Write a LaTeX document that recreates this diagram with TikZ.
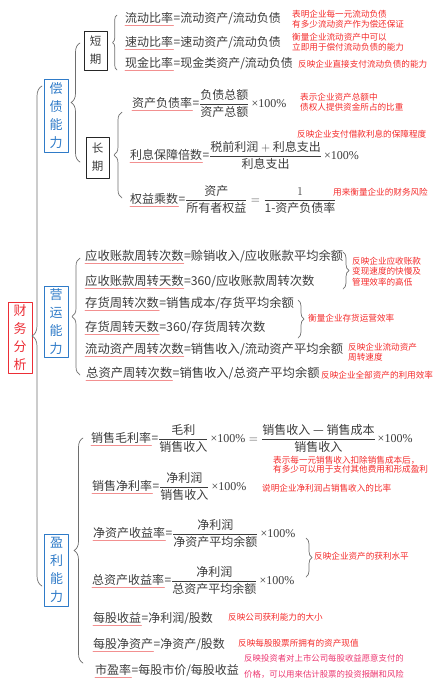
\documentclass[tikz,border=0pt]{standalone}
\usepackage{amsmath}
\usepackage{fontspec}
\setmainfont{Noto Sans CJK SC}
\newfontfamily\serif{Liberation Serif}
\usetikzlibrary{decorations.pathreplacing}
\definecolor{maintxt}{HTML}{3C3C3C}
\definecolor{notered}{HTML}{F42A2A}
\definecolor{notepink}{HTML}{EC3670}
\definecolor{boxblue}{HTML}{2F7BC8}
\definecolor{boxred}{HTML}{EC2E36}
\definecolor{ulred}{HTML}{F29090}
\definecolor{brgray}{HTML}{6E6E6E}
\newcommand{\pct}{\,{\serif ×100\%}}
\begin{document}
\begin{tikzpicture}[x=1pt,y=-1pt, line join=round, line cap=round,
	txt/.style={text=maintxt, font=\fontsize{12}{14}\selectfont, inner sep=0pt, anchor=west},
	ytxt/.style={txt, font=\fontsize{12.3}{15}\selectfont},
	rest/.style={anchor=base west},
	note/.style={text=notered, font=\fontsize{8.6}{10}\selectfont, align=left, inner sep=0pt, anchor=west},
	vbox/.style={draw, line width=0.9pt, align=center, minimum width=24pt, inner sep=0pt, font=\fontsize{13}{18}\selectfont},
	kbox/.style={draw=black!85, text=maintxt, line width=0.8pt, align=center, minimum width=23pt, inner sep=0pt, font=\fontsize{11.5}{18}\selectfont},
	brc/.style={draw=brgray, line width=0.7pt, decorate, decoration={brace, amplitude=#1}},
	uline/.style={draw=ulred, line width=0.8pt}]
	\useasboundingbox (0,0) rectangle (440,686);
	\def\ul{2.6} % underline depth
	% boxes
	\node[vbox, draw=boxred, text=boxred, minimum height=71pt] (cwfx) at (20,337.5) {财\\务\\分\\析};
	\node[vbox, draw=boxblue, text=boxblue, minimum height=73pt] (cznl) at (56,115.5) {偿\\债\\能\\力};
	\node[vbox, draw=boxblue, text=boxblue, minimum height=71pt] (yynl) at (56,321.5) {营\\运\\能\\力};
	\node[vbox, draw=boxblue, text=boxblue, minimum height=72pt] (ylnl) at (56.5,570) {盈\\利\\能\\力};
	\node[kbox, minimum height=39pt] (dq) at (95.5,50.5) {短\\期};
	\node[kbox, minimum height=41pt] (cq) at (97.5,157.5) {长\\期};
	% braces
	\draw[brc=10pt] (42,586) -- (42,86);
	\draw[brc=9pt] (80,162) -- (80,43);
	\draw[brc=4.5pt] (117,70) -- (117,15);
	\draw[brc=8pt] (122,198) -- (122,112);
	\draw[brc=8pt] (80,375) -- (80,258);
	\draw[brc=9pt] (83,663) -- (83,438);
	\draw[brc=6pt] (343,252) -- (343,289);
	\draw[brc=6pt] (298,300) -- (298,338);
	\draw[brc=6pt] (306,538) -- (306,577);
	% 偿债能力
	\node[txt] (ldbl) at (125,18) {流动比率};
	\node[txt, rest] (ldbl-r) at (ldbl.base east) {=流动资产/流动负债};
	\node[txt] (sdbl) at (125,42) {速动比率};
	\node[txt, rest] (sdbl-r) at (sdbl.base east) {=速动资产/流动负债};
	\node[txt] (xjbl) at (125,63) {现金比率};
	\node[txt, rest] (xjbl-r) at (xjbl.base east) {=现金类资产/流动负债};
	\node[txt] (zcfzl) at (132,103) {资产负债率};
	\node[txt, rest] (zcfzl-r) at (zcfzl.base east) {=$\dfrac{\mbox{负债总额}}{\mbox{资产总额}}$\pct};
	\node[txt] (lxbz) at (130,155) {利息保障倍数};
	\node[txt, rest] (lxbz-r) at (lxbz.base east) {=$\dfrac{\mbox{税前利润}+\mbox{利息支出}}{\mbox{利息支出}}$\pct};
	\node[txt] (qycs) at (130,199) {权益乘数};
	\node[txt, rest] (qycs-r) at (qycs.base east) {=$\dfrac{\mbox{资产}}{\mbox{所有者权益}}=\dfrac{1}{\mbox{1-资产负债率}}$};
	\node[note] (n1) at (292,19) {表明企业每一元流动负债\\有多少流动资产作为偿还保证};
	\node[note] (n2) at (292,42.5) {衡量企业流动资产中可以\\立即用于偿付流动负债的能力};
	\node[note] (n3) at (298,64) {反映企业直接支付流动负债的能力};
	\node[note] (n4) at (300,102) {表示企业资产总额中\\债权人提供资金所占的比重};
	\node[note] (n5) at (297,134) {反映企业支付借款利息的保障程度};
	\node[note] (n6) at (333,192) {用来衡量企业的财务风险};
	% 营运能力
	\node[ytxt] (yszk1) at (85,256) {应收账款周转次数};
	\node[ytxt, rest] (yszk1-r) at (yszk1.base east) {=赊销收入/应收账款平均余额};
	\node[ytxt] (yszk2) at (85,281) {应收账款周转天数};
	\node[ytxt, rest] (yszk2-r) at (yszk2.base east) {=360/应收账款周转次数};
	\node[ytxt] (ch1) at (85,303) {存货周转次数};
	\node[ytxt, rest] (ch1-r) at (ch1.base east) {=销售成本/存货平均余额};
	\node[ytxt] (ch2) at (85,327) {存货周转天数};
	\node[ytxt, rest] (ch2-r) at (ch2.base east) {=360/存货周转次数};
	\node[ytxt] (ldzc) at (85,349) {流动资产周转次数};
	\node[ytxt, rest] (ldzc-r) at (ldzc.base east) {=销售收入/流动资产平均余额};
	\node[ytxt] (zzc) at (86,373) {总资产周转次数};
	\node[ytxt, rest] (zzc-r) at (zzc.base east) {=销售收入/总资产平均余额};
	\node[note, font=\fontsize{8.6}{10.5}\selectfont] (n7) at (352,271.5) {反映企业应收账款\\变现速度的快慢及\\管理效率的高低};
	\node[note] (n8) at (308,318) {衡量企业存货运营效率};
	\node[note] (n9) at (348,352) {反映企业流动资产\\周转速度};
	\node[note] (n10) at (321,375) {反映企业全部资产的利用效率};
	% 盈利能力
	\node[txt] (xsml) at (91,438) {销售毛利率};
	\node[txt, rest] (xsml-r) at (xsml.base east) {=$\dfrac{\mbox{毛利}}{\mbox{销售收入}}$\pct${}=\dfrac{\mbox{销售收入 — 销售成本}}{\mbox{销售收入}}$\pct};
	\node[txt] (xsjl) at (92,486) {销售净利率};
	\node[txt, rest] (xsjl-r) at (xsjl.base east) {=$\dfrac{\mbox{净利润}}{\mbox{销售收入}}$\pct};
	\node[txt] (jzc) at (93,533) {净资产收益率};
	\node[txt, rest] (jzc-r) at (jzc.base east) {=$\dfrac{\mbox{净利润}}{\mbox{净资产平均余额}}$\pct};
	\node[txt] (zzcsy) at (92,580) {总资产收益率};
	\node[txt, rest] (zzcsy-r) at (zzcsy.base east) {=$\dfrac{\mbox{净利润}}{\mbox{总资产平均余额}}$\pct};
	\node[txt] (mgsy) at (93,618) {每股收益};
	\node[txt, rest] (mgsy-r) at (mgsy.base east) {=净利润/股数};
	\node[txt] (mgjzc) at (93,644) {每股净资产};
	\node[txt, rest] (mgjzc-r) at (mgjzc.base east) {=净资产/股数};
	\node[txt] (syl) at (95,670) {市盈率};
	\node[txt, rest] (syl-r) at (syl.base east) {=每股市价/每股收益};
	\node[note, font=\fontsize{8.6}{9.5}\selectfont] (n11) at (273,464.5) {表示每一元销售收入扣除销售成本后，\\有多少可以用于支付其他费用和形成盈利};
	\node[note] (n12) at (262,488) {说明企业净利润占销售收入的比率};
	\node[note] (n13) at (314,556) {反映企业资产的获利水平};
	\node[note] (n14) at (228,617) {反映公司获利能力的大小};
	\node[note] (n15) at (238,643) {反映每股股票所拥有的资产现值};
	\node[note, text=notepink, font=\fontsize{8.4}{16}\selectfont] (n16) at (244,666) {反映投资者对上市公司每股收益愿意支付的\\价格，可以用来估计股票的投资报酬和风险};
	% underlines
	\foreach \n in {ldbl,sdbl,xjbl,zcfzl,lxbz,qycs,yszk1,yszk2,ch1,ch2,ldzc,zzc,xsml,xsjl,jzc,zzcsy,mgsy,mgjzc,syl}
		\draw[uline] ([yshift=-\ul pt]\n.base west) -- ([yshift=-\ul pt]\n.base east);
\end{tikzpicture}
\end{document}
